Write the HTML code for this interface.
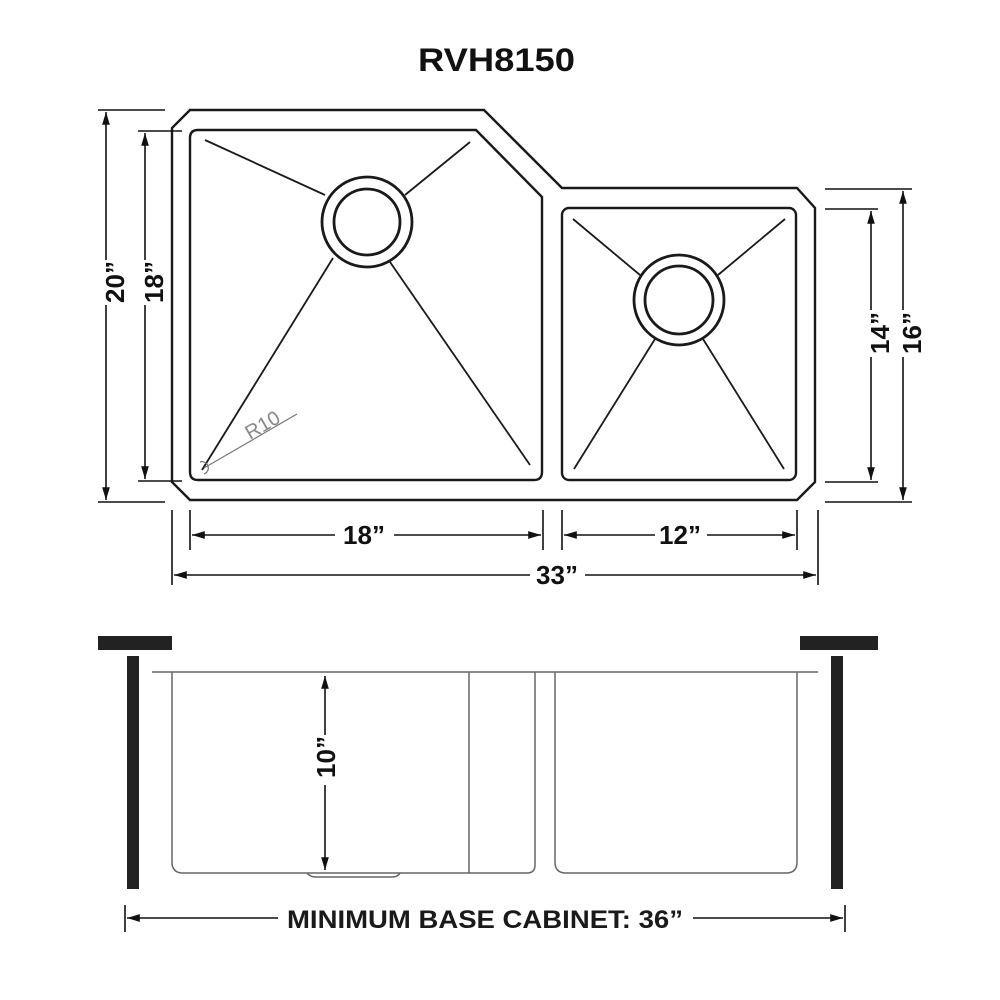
<!DOCTYPE html>
<html><head><style>html,body{margin:0;background:#fff}svg{display:block}</style></head>
<body>
<svg width="1000" height="1000" viewBox="0 0 1000 1000" xmlns="http://www.w3.org/2000/svg" font-family="Liberation Sans, sans-serif">
<defs>
<marker id="a" viewBox="0 0 10 10" refX="10" refY="5" markerWidth="8" markerHeight="8" orient="auto-start-reverse"><path d="M0,2 L10,5 L0,8 z" fill="#111"/></marker>
</defs>
<text x="418" y="71" textLength="157" lengthAdjust="spacingAndGlyphs" font-size="32" font-weight="bold" fill="#111">RVH8150</text>
<g fill="none" stroke="#1a1a1a" stroke-width="2.4">
<path d="M190,110 L484,110 L562,188 L797,188 L815,208 L815,482 L797,500 L190,500 L172,482 L172,128 Z"/>
<path d="M198,130 L476,130 L542,197 L542,472 Q542,480 534,480 L198,480 Q190,480 190,472 L190,138 Q190,130 198,130 Z"/>
<rect x="562" y="208" width="234" height="272" rx="7"/>
<g stroke-width="2.8">
<circle cx="367" cy="222" r="45"/><circle cx="367" cy="222" r="33"/>
<circle cx="679" cy="300" r="45"/><circle cx="679" cy="300" r="34"/>
</g>
<g stroke-width="1.8">
<line x1="205" y1="140" x2="325" y2="195"/><line x1="470" y1="142" x2="405" y2="195"/>
<line x1="333" y1="258" x2="202" y2="470"/><line x1="390" y1="262" x2="530" y2="465"/>
<line x1="573" y1="219" x2="640" y2="275"/><line x1="785" y1="219" x2="718" y2="275"/>
<line x1="655" y1="339" x2="574" y2="469"/><line x1="703" y1="339" x2="784" y2="469"/>
</g>
</g>
<g stroke="#777" stroke-width="1.2" fill="none"><line x1="297" y1="414" x2="204" y2="468"/><path d="M200,462 a6,6 0 0 1 4,12"/></g>
<text x="0" y="0" font-size="20" fill="#888" transform="translate(250,440) rotate(-30)">R10</text>
<g stroke="#111" stroke-width="1.6" fill="none">
<line x1="98" y1="110" x2="165" y2="110"/><line x1="98" y1="502" x2="165" y2="502"/>
<line x1="106" y1="112" x2="106" y2="260" marker-start="url(#a)"/><line x1="106" y1="305" x2="106" y2="500" marker-end="url(#a)"/>
<line x1="138" y1="131" x2="182" y2="131"/><line x1="138" y1="481" x2="182" y2="481"/>
<line x1="145" y1="133" x2="145" y2="260" marker-start="url(#a)"/><line x1="145" y1="305" x2="145" y2="479" marker-end="url(#a)"/>
<line x1="825" y1="189" x2="912" y2="189"/><line x1="825" y1="502" x2="912" y2="502"/>
<line x1="903" y1="191" x2="903" y2="310" marker-start="url(#a)"/><line x1="903" y1="357" x2="903" y2="500" marker-end="url(#a)"/>
<line x1="825" y1="209" x2="878" y2="209"/><line x1="825" y1="482" x2="878" y2="482"/>
<line x1="871" y1="211" x2="871" y2="310" marker-start="url(#a)"/><line x1="871" y1="357" x2="871" y2="480" marker-end="url(#a)"/>
<line x1="190" y1="510" x2="190" y2="550"/><line x1="543" y1="510" x2="543" y2="550"/>
<line x1="562" y1="510" x2="562" y2="550"/><line x1="797" y1="510" x2="797" y2="550"/>
<line x1="172" y1="510" x2="172" y2="585"/><line x1="818" y1="510" x2="818" y2="585"/>
<line x1="192" y1="535" x2="335" y2="535" marker-start="url(#a)"/><line x1="394" y1="535" x2="541" y2="535" marker-end="url(#a)"/>
<line x1="564" y1="535" x2="655" y2="535" marker-start="url(#a)"/><line x1="707" y1="535" x2="795" y2="535" marker-end="url(#a)"/>
<line x1="174" y1="575" x2="530" y2="575" marker-start="url(#a)"/><line x1="585" y1="575" x2="816" y2="575" marker-end="url(#a)"/>
</g>
<g font-size="26" font-weight="bold" fill="#111" text-anchor="middle">
<text transform="translate(124,282) rotate(-90)">20”</text>
<text transform="translate(163,282) rotate(-90)">18”</text>
<text transform="translate(889,333) rotate(-90)">14”</text>
<text transform="translate(921,333) rotate(-90)">16”</text>
<text x="364" y="544">18”</text>
<text x="680" y="544">12”</text>
<text x="557" y="584">33”</text>
<text transform="translate(335,757) rotate(-90)">10”</text>
</g>
<g fill="#222">
<rect x="98" y="636" width="74" height="14"/><rect x="127" y="656" width="12" height="233"/>
<rect x="800" y="636" width="78" height="14"/><rect x="831" y="656" width="12" height="233"/>
</g>
<g stroke="#666" stroke-width="1.5" fill="none">
<line x1="152" y1="672" x2="818" y2="672"/>
<path d="M172,672 L172,862 Q172,873 183,873 L527,873"/>
<path d="M535,672 L535,865 Q535,873 527,873"/>
<line x1="469" y1="672" x2="469" y2="873"/>
<path d="M555,672 L555,862 Q555,873 566,873 L786,873 Q797,873 797,862 L797,672"/>
<path d="M307,873 Q310,877 316,877 L392,877 Q398,877 400,873"/>
</g>
<g stroke="#111" stroke-width="1.6" fill="none">
<line x1="325" y1="676" x2="325" y2="735" marker-start="url(#a)"/><line x1="325" y1="785" x2="325" y2="870" marker-end="url(#a)"/>
<line x1="125" y1="905" x2="125" y2="932"/><line x1="845" y1="905" x2="845" y2="932"/>
<line x1="127" y1="918" x2="278" y2="918" marker-start="url(#a)"/><line x1="693" y1="918" x2="843" y2="918" marker-end="url(#a)"/>
</g>
<text x="287" y="928" textLength="396" lengthAdjust="spacingAndGlyphs" font-size="25" font-weight="bold" fill="#1a1a1a">MINIMUM BASE CABINET: 36”</text>
</svg>
</body></html>
